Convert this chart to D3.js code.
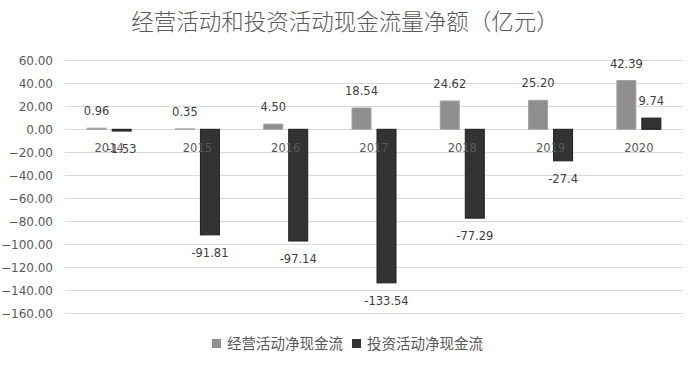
<!DOCTYPE html>
<html><head><meta charset="utf-8">
<script src="https://cdn.jsdelivr.net/npm/d3@7"></script>
<style>body{margin:0;background:#fff;}svg{display:block;}</style>
</head><body>
<svg id="chart" width="700" height="365"></svg>
<script>
const title = "经营活动和投资活动现金流量净额（亿元）";
const years = ["2014","2015","2016","2017","2018","2019","2020"];
const seriesNames = ["经营活动净现金流","投资活动净现金流"];
const operating = [0.96, 0.35, 4.50, 18.54, 24.62, 25.20, 42.39];
const investing = [-1.53, -91.81, -97.14, -133.54, -77.29, -27.4, 9.74];
const operatingLabels = ["0.96","0.35","4.50","18.54","24.62","25.20","42.39"];
const investingLabels = ["-1.53","-91.81","-97.14","-133.54","-77.29","-27.4","9.74"];
const yTicks = [60,40,20,0,-20,-40,-60,-80,-100,-120,-140,-160];

const colors = ["#8f8f8f","#333333"];
const strokes = ["#a3a3a3","#1f1f1f"];
const seriesVals = [operating, investing];
const seriesLabels = [operatingLabels, investingLabels];

const svg = d3.select("#chart");
const numFont = "'DejaVu Sans', sans-serif";
const cjkFont = "'Noto Sans CJK SC', sans-serif";

const y = d3.scaleLinear().domain([-160, 60]).range([313.3, 60.3]);
const x0 = d3.scaleBand().domain(years).range([65, 683]).padding(0);
const bw = x0.bandwidth();
const x1 = d3.scaleBand().domain([0,1]).range([bw/2 - 22.5, bw/2 + 22.5]).paddingInner(0.2);

// title
svg.append("text").attr("x", 345).attr("y", 30).attr("text-anchor","middle")
  .attr("font-family", cjkFont).attr("font-size", 22.5).attr("font-weight", 300)
  .attr("fill","#595959").text(title);

// gridlines
svg.append("g").selectAll("line").data(yTicks).join("line")
  .attr("x1", 65).attr("x2", 683)
  .attr("y1", d => Math.round(y(d)) + 0.5).attr("y2", d => Math.round(y(d)) + 0.5)
  .attr("stroke", "#d9d9d9").attr("stroke-width", 1);

// y axis labels
const yAxis = d3.axisLeft(y).tickValues(yTicks).tickSize(0).tickPadding(0).tickFormat(d3.format(".2f"));
const gy = svg.append("g").attr("transform","translate(53,0)").call(yAxis);
gy.select(".domain").remove();
gy.selectAll("text").attr("font-family", numFont).attr("font-size", 12).attr("fill","#595959");

// bars
seriesVals.forEach((vals, s) => {
  svg.append("g").selectAll("rect").data(years).join("rect")
    .attr("x", (d,i) => x0(d) + x1(s) + 0.5)
    .attr("width", x1.bandwidth() - 1)
    .attr("y", (d,i) => y(Math.max(0, vals[i])))
    .attr("height", (d,i) => Math.abs(y(vals[i]) - y(0)))
    .attr("fill", colors[s]).attr("stroke", strokes[s]).attr("stroke-width", 1);
});

// category labels
svg.append("g").selectAll("text").data(years).join("text")
  .attr("x", d => x0(d) + bw/2).attr("y", y(0) + 23)
  .attr("text-anchor","middle").attr("font-family", numFont).attr("font-size", 11.5)
  .attr("fill","#595959").text(d => d);

// data labels
seriesVals.forEach((vals, s) => {
  svg.append("g").selectAll("text").data(years).join("text")
    .attr("x", (d,i) => x0(d) + x1(s) + x1.bandwidth()/2)
    .attr("y", (d,i) => vals[i] >= 0 ? y(vals[i]) - 17 + 4 : y(vals[i]) + 18 + 4)
    .attr("text-anchor","middle").attr("font-family", numFont).attr("font-size", 11.5)
    .attr("fill","#404040").text((d,i) => seriesLabels[s][i]);
});

// legend
const legend = svg.append("g");
const legX = [212, 352];
seriesNames.forEach((n, s) => {
  legend.append("rect").attr("x", legX[s]).attr("y", 339).attr("width", 9).attr("height", 9)
    .attr("fill", colors[s]);
  legend.append("text").attr("x", legX[s] + 15).attr("y", 349)
    .attr("font-family", cjkFont).attr("font-size", 14.5).attr("fill","#595959").text(n);
});
</script>
</body></html>
